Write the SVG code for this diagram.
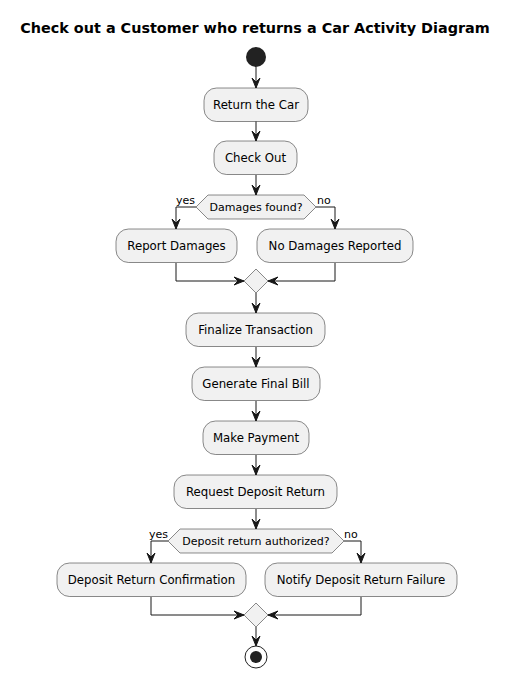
<svg xmlns="http://www.w3.org/2000/svg" width="512" height="679" viewBox="0 0 512 679">
<defs>
<style>
.bg{fill:#FFFFFF}
.title{font-family:"DejaVu Sans",sans-serif;font-size:14.4px;font-weight:bold;fill:#000000}
.box{fill:#F1F1F1;stroke:#181818;stroke-width:0.5}
.t{font-family:"DejaVu Sans",sans-serif;font-size:11.75px;fill:#000000;text-anchor:middle}
.d{font-family:"DejaVu Sans",sans-serif;font-size:11px;fill:#000000;text-anchor:middle}
.lb{font-family:"DejaVu Sans",sans-serif;font-size:11px;fill:#000000}
.ln{fill:none;stroke:#181818;stroke-width:1}
.ah{fill:#181818;stroke:#181818;stroke-width:1}
</style>
</defs>
<rect class="bg" x="0" y="0" width="512" height="679"/>
<text class="title" x="255" y="33" text-anchor="middle">Check out a Customer who returns a Car Activity Diagram</text>

<g id="connectors">
<path class="ln" d="M256,67 L256,88"/>
<polygon class="ah" points="252,78 256,88 260,78 256,82"/>
<path class="ln" d="M256,121 L256,141"/>
<polygon class="ah" points="252,131 256,141 260,131 256,135"/>
<path class="ln" d="M256,175 L256,195"/>
<polygon class="ah" points="252,185 256,195 260,185 256,189"/>
<path class="ln" d="M196,207 L176,207 L176,229"/>
<polygon class="ah" points="172,219 176,229 180,219 176,223"/>
<path class="ln" d="M316,207 L335,207 L335,229"/>
<polygon class="ah" points="331,219 335,229 339,219 335,223"/>
<path class="ln" d="M176,263 L176,281 L244,281"/>
<polygon class="ah" points="234,277 244,281 234,285 238,281"/>
<path class="ln" d="M335,263 L335,281 L268,281"/>
<polygon class="ah" points="278,277 268,281 278,285 274,281"/>
<path class="ln" d="M256,293 L256,313"/>
<polygon class="ah" points="252,303 256,313 260,303 256,307"/>
<path class="ln" d="M256,347 L256,367"/>
<polygon class="ah" points="252,357 256,367 260,357 256,361"/>
<path class="ln" d="M256,401 L256,421"/>
<polygon class="ah" points="252,411 256,421 260,411 256,415"/>
<path class="ln" d="M256,455 L256,475"/>
<polygon class="ah" points="252,465 256,475 260,465 256,469"/>
<path class="ln" d="M256,509 L256,529"/>
<polygon class="ah" points="252,519 256,529 260,519 256,523"/>
<path class="ln" d="M168,541 L151,541 L151,563"/>
<polygon class="ah" points="147,553 151,563 155,553 151,557"/>
<path class="ln" d="M344,541 L361,541 L361,563"/>
<polygon class="ah" points="357,553 361,563 365,553 361,557"/>
<path class="ln" d="M151,597 L151,615 L244,615"/>
<polygon class="ah" points="234,611 244,615 234,619 238,615"/>
<path class="ln" d="M361,597 L361,615 L268,615"/>
<polygon class="ah" points="278,611 268,615 278,619 274,615"/>
<path class="ln" d="M256,627 L256,646"/>
<polygon class="ah" points="252,636 256,646 260,636 256,640"/>
<text class="lb" x="195" y="204" text-anchor="end">yes</text>
<text class="lb" x="317" y="204">no</text>
<text class="lb" x="168" y="538" text-anchor="end">yes</text>
<text class="lb" x="344" y="538">no</text>
</g>

<g id="start"><circle cx="256" cy="57" r="10" fill="#222222"/></g>

<g id="return-car"><rect class="box" x="204" y="88" width="104" height="33.5" rx="12.5"/><text class="t" x="256" y="109">Return the Car</text></g>
<g id="check-out"><rect class="box" x="214" y="141" width="83" height="33.5" rx="12.5"/><text class="t" x="255.5" y="162">Check Out</text></g>
<g id="damages-decision"><polygon class="box" points="196,207 208,195 304,195 316,207 304,219 208,219"/><text class="d" x="256" y="211">Damages found?</text></g>
<g id="report-damages"><rect class="box" x="116" y="229" width="121" height="33.5" rx="12.5"/><text class="t" x="176.5" y="250">Report Damages</text></g>
<g id="no-damages"><rect class="box" x="257" y="229" width="156" height="33.5" rx="12.5"/><text class="t" x="335" y="250">No Damages Reported</text></g>
<g id="merge1"><polygon class="box" points="256,269 268,281 256,293 244,281"/></g>
<g id="finalize"><rect class="box" x="186" y="313" width="139" height="33.5" rx="12.5"/><text class="t" x="255.5" y="334">Finalize Transaction</text></g>
<g id="final-bill"><rect class="box" x="192" y="367" width="128" height="33.5" rx="12.5"/><text class="t" x="256" y="388">Generate Final Bill</text></g>
<g id="payment"><rect class="box" x="203" y="421" width="106" height="33.5" rx="12.5"/><text class="t" x="256" y="442">Make Payment</text></g>
<g id="deposit-request"><rect class="box" x="174" y="475" width="163" height="33.5" rx="12.5"/><text class="t" x="255.5" y="496">Request Deposit Return</text></g>
<g id="deposit-decision"><polygon class="box" points="168,541 180,529 332,529 344,541 332,553 180,553"/><text class="d" x="256" y="545">Deposit return authorized?</text></g>
<g id="deposit-confirm"><rect class="box" x="57" y="563" width="189" height="33.5" rx="12.5"/><text class="t" x="151.5" y="584">Deposit Return Confirmation</text></g>
<g id="deposit-fail"><rect class="box" x="265" y="563" width="192" height="33.5" rx="12.5"/><text class="t" x="361" y="584">Notify Deposit Return Failure</text></g>
<g id="merge2"><polygon class="box" points="256,603 268,615 256,627 244,615"/></g>
<g id="end"><circle cx="256" cy="657" r="11" fill="none" stroke="#222222" stroke-width="1"/><circle cx="256" cy="657" r="6" fill="#222222"/></g>
</svg>
